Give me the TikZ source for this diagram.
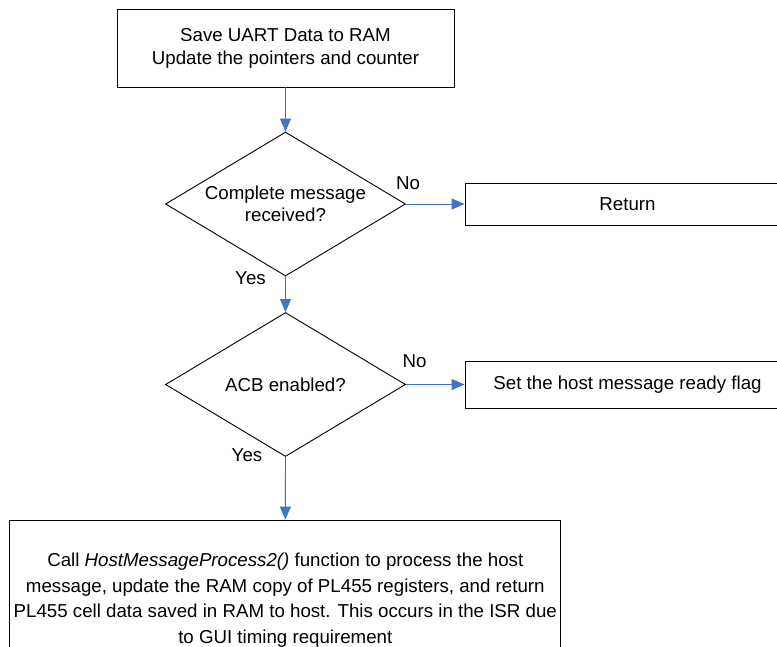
\documentclass[tikz,border=0pt]{standalone}
\usepackage{fontspec}
\setmainfont{Liberation Sans}
\usetikzlibrary{shapes.geometric,arrows.meta}
\definecolor{arrowblue}{RGB}{68,114,196}
\begin{document}
\begin{tikzpicture}[x=1pt,y=-1pt,
  box/.style={draw=black,line width=0.9pt,inner sep=0pt,align=center,font=\fontsize{18.7}{23}\selectfont},
  dec/.style={draw=black,line width=0.9pt,diamond,aspect=1.667,inner sep=0pt,minimum width=240pt,minimum height=144pt,align=center,font=\fontsize{18.7}{22}\selectfont},
  lbl/.style={inner sep=0pt,font=\fontsize{18.7}{22}\selectfont},
  flow/.style={draw=arrowblue,line width=0.9pt,-{Triangle[length=13pt,width=11pt]}}]
\useasboundingbox (0,0) rectangle (777,646);
\clip (0,0) rectangle (777,646);
\fill[white] (0,0) rectangle (777,646);
\node[box,minimum width=337pt,minimum height=78pt] (save) at (285.5,48) {Save UART Data to RAM\\Update the pointers and counter};
\node[dec] (d1) at (285.5,204) {Complete message\\received?};
\node[dec] (d2) at (285.5,384.5) {ACB enabled?};
\node[box,minimum width=325pt,minimum height=42pt] (ret) at (627.5,204) {Return};
\node[box,minimum width=325pt,minimum height=47pt] (flag) at (627.5,384.5) {Set the host message ready flag};
\node[box,minimum width=551pt,minimum height=160pt,font=\fontsize{18.7}{25.6}\selectfont] (proc) at (285.3,600) {Call \textit{HostMessageProcess2()} function to process the  host\\message, update the RAM copy of PL455 registers, and return\\PL455 cell data saved in RAM to host. This occurs in the ISR due\\to GUI timing requirement};
\node[lbl] (no1) at (408,183) {No};
\node[lbl] (no2) at (414.5,361) {No};
\node[lbl] (yes1) at (250.5,278) {Yes};
\node[lbl] (yes2) at (247,455) {Yes};
\draw[flow] (save.south) -- (d1.north);
\draw[flow] (d1.east) -- (ret.west);
\draw[flow] (d1.south) -- (d2.north);
\draw[flow] (d2.east) -- (flag.west);
\draw[flow] (d2.south) -- (proc.north);
\end{tikzpicture}
\end{document}
